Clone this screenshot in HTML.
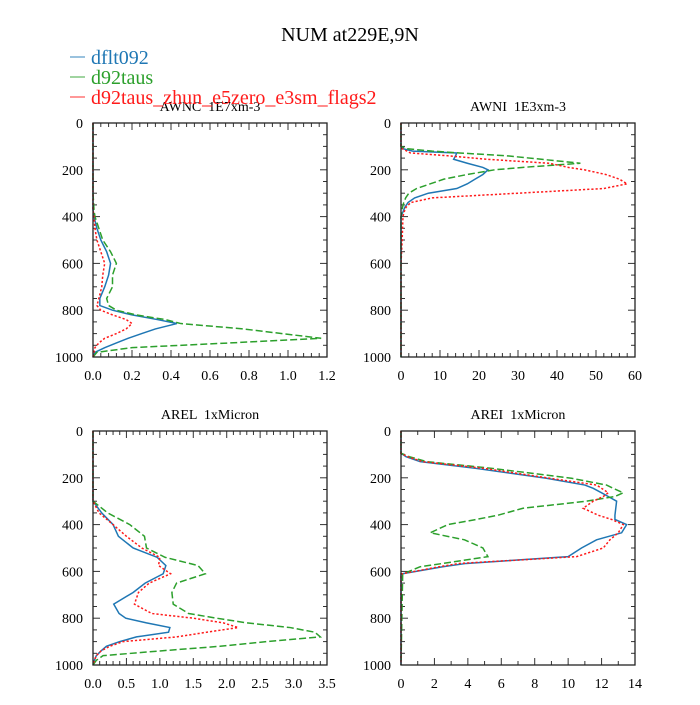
<!DOCTYPE html>
<html><head><meta charset="utf-8"><style>
html,body{margin:0;padding:0;background:#fff}
svg text{font-family:"Liberation Serif",serif;white-space:pre}
</style></head><body>
<svg id="chart" width="700" height="700" viewBox="0 0 700 700" xmlns="http://www.w3.org/2000/svg">
<rect width="700" height="700" fill="#fff"/>
<text x="350" y="41" text-anchor="middle" font-size="20" font-family="Liberation Serif, serif" fill="#000">NUM at229E,9N</text>
</svg>
<script>
// Panel 1: AWNC
const levels1 = [0,300,370,400,450,500,550,600,650,700,750,780,800,820,840,857,880,900,920,940,960,980,1000];
const blue1  = [0,0,0,0.005,0.02,0.04,0.07,0.09,0.08,0.06,0.035,0.035,0.1,0.2,0.33,0.43,0.32,0.25,0.18,0.12,0.06,0.01,0];
const green1 = [0,0,0.005,0.01,0.03,0.05,0.09,0.12,0.1,0.1,0.07,0.08,0.12,0.22,0.37,0.45,0.77,0.97,1.17,0.7,0.2,0.02,0];
const red1   = [0,0,0,0.005,0.01,0.02,0.04,0.06,0.05,0.045,0.03,0.02,0.04,0.1,0.17,0.2,0.17,0.12,0.06,0.03,0.01,0.005,0];
const xticks1 = ["0.0","0.2","0.4","0.6","0.8","1.0","1.2"];
// Panel 2: AWNI
const levels2 = [0,100,110,120,128,140,155,172,190,200,220,240,260,280,300,320,340,360,380,400,500,600,1000];
const blue2  = [0,0,0.5,3,14.3,14,13.5,17,21,22.3,21,19,17,14.3,7,3.5,1.8,1,0.5,0,0,0,0];
const green2 = [0,0,1.5,8,15,27,36,46,31,24,17,11,7.5,4,2,1.2,0.7,0.4,0.2,0,0,0,0];
const red2   = [0,0,0.3,1.5,2.4,12,22,38,43,47,52.5,56,58,52,30,8,2.5,1.3,0.8,0.5,0.3,0,0];
const xticks2 = ["0","10","20","30","40","50","60"];
// Panel 3: AREL
const levels3 = [0,300,350,400,450,500,540,575,610,650,690,740,780,800,820,840,860,880,900,920,940,960,980,1000];
const blue3  = [0,0,0.13,0.3,0.38,0.6,0.96,1.09,1.05,0.78,0.6,0.31,0.39,0.49,0.8,1.15,1.13,0.65,0.4,0.2,0.12,0.05,0.02,0];
const green3 = [0,0,0.22,0.55,0.77,0.8,1.08,1.57,1.68,1.25,1.18,1.2,1.43,1.85,2.3,2.95,3.32,3.4,2.6,1.9,1.0,0.15,0.05,0];
const red3   = [0,0,0.09,0.3,0.5,0.73,1.0,0.98,1.16,0.84,0.68,0.62,0.88,1.5,1.95,2.17,1.7,1.25,0.45,0.25,0.12,0.05,0.02,0];
const xticks3 = ["0.0","0.5","1.0","1.5","2.0","2.5","3.0","3.5"];
// Panel 4: AREI
const levels4 = [0,95,110,131,160,202,231,245,264,280,300,330,360,378,400,435,465,500,537,566,580,611,1000];
const blue4  = [0,0,0.3,1.15,4.5,8.7,11,11.5,12,12.4,12.9,12.85,12.8,12.8,13.5,13.2,11.7,10.8,10,3.9,2.5,0,0];
const green4 = [0,0,0.5,1.55,5.5,10.2,12.3,12.7,13.3,12.8,11.1,7.3,5.8,4.5,2.8,1.75,3.8,4.9,5.2,2.5,1.15,0.1,0];
const red4   = [0,0,0.4,1.3,5,8.9,11.7,12,12.4,12.1,11.5,10.9,11.8,12.6,13.3,13,12.5,12.1,10.5,3.5,2.3,0,0];
const xticks4 = ["0","2","4","6","8","10","12","14"];
const yticks = [0,200,400,600,800,1000];

const NS="http://www.w3.org/2000/svg";
const FONT="Liberation Serif, serif";
const svg=document.getElementById('chart');
function mk(tag,attrs,parent){const e=document.createElementNS(NS,tag);for(const k in attrs)e.setAttribute(k,attrs[k]);(parent||svg).appendChild(e);return e;}

const panels=[
 {x0:93,y0:123,title:"AWNC  1E7xm-3",xmax:1.2,minor:5,levels:levels1,s:[blue1,green1,red1],xt:xticks1,name:"awnc"},
 {x0:401,y0:123,title:"AWNI  1E3xm-3",xmax:60,minor:5,levels:levels2,s:[blue2,green2,red2],xt:xticks2,name:"awni"},
 {x0:93,y0:431,title:"AREL  1xMicron",xmax:3.5,minor:5,levels:levels3,s:[blue3,green3,red3],xt:xticks3,name:"arel"},
 {x0:401,y0:431,title:"AREI  1xMicron",xmax:14,minor:2,levels:levels4,s:[blue4,green4,red4],xt:xticks4,name:"arei"}
];
const W=234,H=234;
const colors=["#1f77b4","#2ca02c","#ff1a1a"];
const dashes=["none","7,3","2.2,2"];
const snames=["dflt092","d92taus","d92taus-zhun-e5zero-e3sm-flags2"];

panels.forEach(p=>{
 const g=mk('g',{});
 
 
 const xs=v=>p.x0+v/p.xmax*W;
 const ys=v=>p.y0+v/1000*H;
 const t=mk('text',{x:p.x0+W/2,y:p.y0-12,'text-anchor':'middle','font-size':14,'font-family':FONT,'xml:space':'preserve'},g);
 t.textContent=p.title;
 
 
 for(let v=0;v<=1000;v+=50){
  const major=v%200===0;const L=major?7:4;
  mk('line',{x1:p.x0,x2:p.x0+L,y1:ys(v),y2:ys(v),stroke:'#333','stroke-width':1},g);
  mk('line',{x1:p.x0+W,x2:p.x0+W-L,y1:ys(v),y2:ys(v),stroke:'#333','stroke-width':1},g);
 }
 yticks.forEach(v=>{
  const tt=mk('text',{x:p.x0-10,y:ys(v)+5,'text-anchor':'end','font-size':14,'font-family':FONT},g);
  tt.textContent=String(v);
  
  
 });
 const n=p.xt.length-1;
 for(let i=0;i<=n*p.minor;i++){
  const x=p.x0+i/(n*p.minor)*W;const major=i%p.minor===0;const L=major?7:4;
  mk('line',{x1:x,x2:x,y1:p.y0+H,y2:p.y0+H-L,stroke:'#333','stroke-width':1},g);
  mk('line',{x1:x,x2:x,y1:p.y0,y2:p.y0+L,stroke:'#333','stroke-width':1},g);
 }
 p.xt.forEach((lab,i)=>{
  const tt=mk('text',{x:xs(parseFloat(lab)),y:p.y0+H+23,'text-anchor':'middle','font-size':14,'font-family':FONT},g);
  tt.textContent=lab;
  
  
 });
 p.s.forEach((vals,si)=>{
  const d=vals.map((v,i)=>(i?'L':'M')+xs(v).toFixed(2)+','+ys(p.levels[i]).toFixed(2)).join(' ');
  const a={d:d,fill:'none',stroke:colors[si],'stroke-width':1.5};
  if(dashes[si]!=='none')a['stroke-dasharray']=dashes[si];
  const path=mk('path',a,g);
  
  
 });
 const fr=mk('rect',{x:p.x0,y:p.y0,width:W,height:H,fill:'none',stroke:'#222','stroke-width':1.3},g);
 
 
});

const legLabels=["dflt092","d92taus","d92taus_zhun_e5zero_e3sm_flags2"];
legLabels.forEach((lab,i)=>{
 const y=57+i*20;
 const g=mk('g',{});
 
 
 mk('line',{x1:70,x2:85,y1:y,y2:y,stroke:colors[i],'stroke-width':1.5,'stroke-opacity':0.6},g);
 const t=mk('text',{x:91,y:y+7,'font-size':20,'font-family':FONT,fill:colors[i]},g);
 t.textContent=lab;
});
</script>
</body></html>
